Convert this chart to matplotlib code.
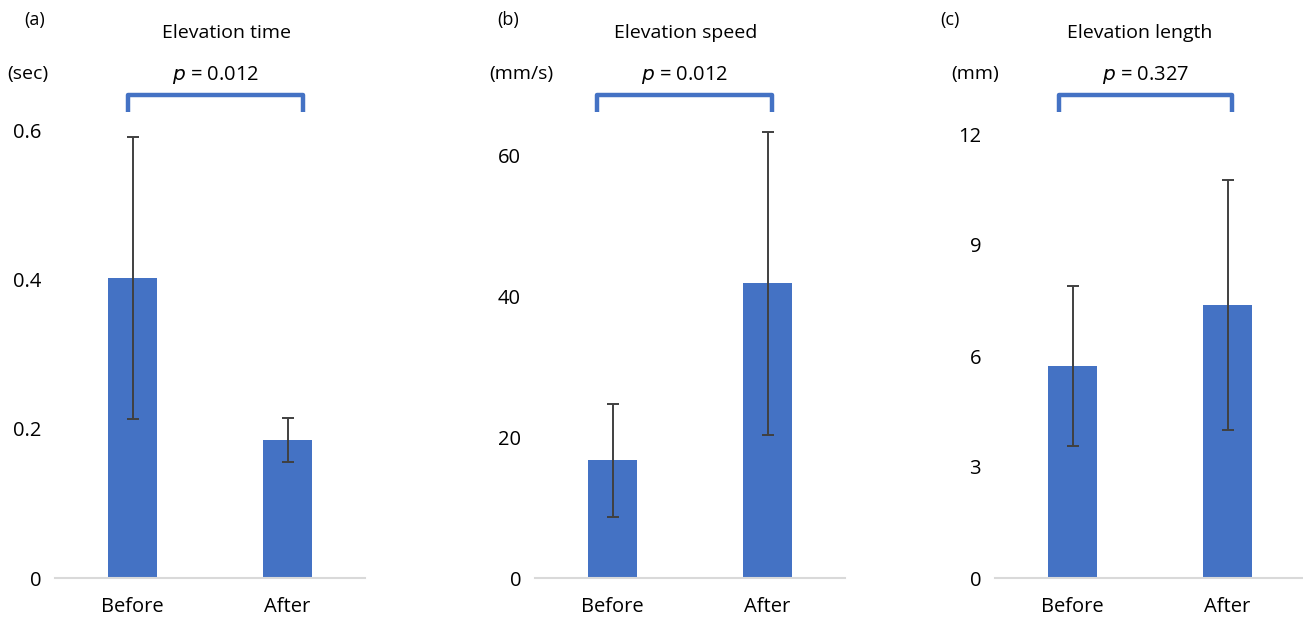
import numpy as np
import matplotlib
matplotlib.use("Agg")
import matplotlib.pyplot as plt

plt.rcParams['font.family'] = ['Open Sans', 'DejaVu Sans']

# data
groups = ["Before", "After"]
time_mean = [0.403, 0.185]
time_sd = [0.189, 0.030]
speed_mean = [16.7, 41.8]
speed_sd = [8.0, 21.5]
length_mean = [5.73, 7.38]
length_sd = [2.17, 3.37]

panel_tags = ["(a)", "(b)", "(c)"]
titles = ["Elevation time", "Elevation speed", "Elevation length"]
units = ["(sec)", "(mm/s)", "(mm)"]
p_texts = ["0.012", "0.012", "0.327"]
yticks = [[0, 0.2, 0.4, 0.6], [0, 20, 40, 60], [0, 3, 6, 9, 12]]
ytick_labels = [["0", "0.2", "0.4", "0.6"], ["0", "20", "40", "60"],
                ["0", "3", "6", "9", "12"]]
ymax = [0.695, 73.5, 14.0]

means = [time_mean, speed_mean, length_mean]
sds = [time_sd, speed_sd, length_sd]

W, H = 1303, 619
blue = "#4472C4"

fig = plt.figure(figsize=(W / 100, H / 100), dpi=100)

# layout in pixels: axes left, title x, unit x, tag x, bracket ends (data x)
ax_left = [55, 535, 995]
tag_x = [35, 508, 950]
title_x = [226, 686, 1140]
unit_x = [28, 521, 975]
bracket = [(-0.03, 1.1), (-0.1, 1.03), (-0.09, 1.03)]

ax_w, ax_top, ax_bot = 310, 60, 578

def fx(x):
    return x / W

def fy(y):
    return 1 - y / H

for i in range(3):
    ax = fig.add_axes([fx(ax_left[i]), fy(ax_bot), ax_w / W, (ax_bot - ax_top) / H])
    x = np.arange(len(groups))
    ax.bar(x, means[i], width=0.315, color=blue, zorder=2)
    ax.errorbar(x, means[i], yerr=sds[i], fmt="none", ecolor="#404040",
                elinewidth=1.4, capsize=4, capthick=1.4, zorder=3)
    ax.set_xlim(-0.5, 1.5)
    ax.set_ylim(0, ymax[i])
    ax.set_xticks(x)
    ax.set_xticklabels(groups, fontsize=14.5)
    ax.set_yticks(yticks[i])
    ax.set_yticklabels(ytick_labels[i], fontsize=14.5)
    ax.tick_params(axis="y", length=0, pad=10)
    ax.tick_params(axis="x", length=0, pad=14)
    for s in ["top", "right", "left"]:
        ax.spines[s].set_visible(False)
    ax.spines["bottom"].set_color("#d9d9d9")
    ax.spines["bottom"].set_linewidth(1.5)

    # significance bracket
    tr = ax.get_xaxis_transform()
    b0, b1 = bracket[i]
    ax.plot([b0, b0, b1, b1], [0.900, 0.932, 0.932, 0.900], transform=tr,
            color=blue, lw=3.2, clip_on=False, solid_joinstyle="round",
            solid_capstyle="butt")
    ax.text((b0 + b1) / 2, 0.972, "$\\it{p}$ = " + p_texts[i], transform=tr,
            ha="center", va="center", fontsize=14.5)

    fig.text(fx(tag_x[i]), fy(20), panel_tags[i], ha="center", va="center", fontsize=13)
    fig.text(fx(title_x[i]), fy(33), titles[i], ha="center", va="center", fontsize=14)
    fig.text(fx(unit_x[i]), fy(74), units[i], ha="center", va="center", fontsize=14)

plt.savefig("out.png", dpi=100)
